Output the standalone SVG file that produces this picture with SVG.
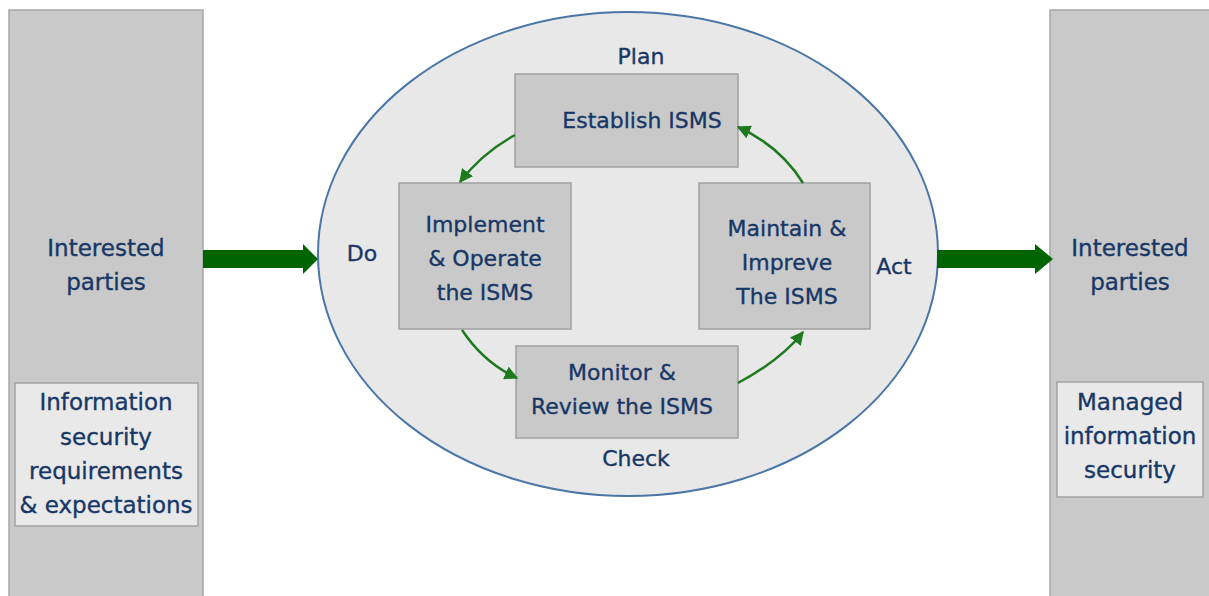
<svg xmlns="http://www.w3.org/2000/svg" width="1209" height="596" viewBox="0 0 1209 596">
<style>
.col{fill:#c9c9c9;stroke:#a6a6a6;stroke-width:1.5}
.ibox{fill:#e9e9e9;stroke:#a3a3a3;stroke-width:1.5}
.box{fill:#c9c9c9;stroke:#a0a0a0;stroke-width:1.5}
text{font-family:"DejaVu Sans","Verdana",sans-serif;fill:#173766;stroke:#173766;stroke-width:0.35;font-size:22px;text-anchor:middle}
.big{font-size:23px}
.flow{fill:none;stroke:#1f7a1f;stroke-width:2.5;marker-end:url(#ah)}
.fat{fill:#006400}
</style>
<defs>
<marker id="ah" viewBox="0 0 10 10" refX="9" refY="5" markerWidth="5.5" markerHeight="5.5" markerUnits="strokeWidth" orient="auto">
<path d="M0,0 L10,5 L0,10 Z" fill="#1f7a1f"/>
</marker>
</defs>
<rect width="1209" height="596" fill="#ffffff"/>
<g id="left-party">
<rect class="col" x="9" y="10" width="194" height="600"/>
<text class="big" x="106" y="256">Interested</text>
<text class="big" x="106" y="290">parties</text>
</g>
<g id="left-req">
<rect class="ibox" x="15" y="383" width="183" height="143"/>
<text class="big" x="106" y="410">Information</text>
<text class="big" x="106" y="445">security</text>
<text class="big" x="106" y="479">requirements</text>
<text class="big" x="106" y="513">&amp; expectations</text>
</g>
<g id="right-party">
<rect class="col" x="1050" y="10" width="170" height="600"/>
<text class="big" x="1130" y="256">Interested</text>
<text class="big" x="1130" y="290">parties</text>
</g>
<g id="right-managed">
<rect class="ibox" x="1057" y="382" width="146" height="115"/>
<text class="big" x="1130" y="410">Managed</text>
<text class="big" x="1130" y="444">information</text>
<text class="big" x="1130" y="478">security</text>
</g>
<g id="isms-cycle">
<ellipse cx="628" cy="254" rx="310" ry="242" fill="#e8e8e8" stroke="#4a76a8" stroke-width="2"/>
<text x="641" y="64">Plan</text>
<text x="362" y="261">Do</text>
<text x="894" y="274">Act</text>
<text x="636" y="466">Check</text>
</g>
<g id="establish">
<rect class="box" x="515" y="74" width="223" height="93"/>
<text x="642" y="128">Establish ISMS</text>
</g>
<g id="implement">
<rect class="box" x="399" y="183" width="172" height="146"/>
<text x="485" y="232">Implement</text>
<text x="485" y="266">&amp; Operate</text>
<text x="485" y="300">the ISMS</text>
</g>
<g id="maintain">
<rect class="box" x="699" y="183" width="171" height="146"/>
<text x="787" y="236">Maintain &amp;</text>
<text x="787" y="270">Impreve</text>
<text x="787" y="304">The ISMS</text>
</g>
<g id="monitor">
<rect class="box" x="516" y="346" width="222" height="92"/>
<text x="622" y="380">Monitor &amp;</text>
<text x="622" y="414">Review the ISMS</text>
</g>
<g id="connectors">
<path class="fat" d="M203,250 L303,250 L303,244 L318,259 L303,274 L303,268 L203,268 Z"/>
<path class="fat" d="M937,250 L1035,250 L1035,244 L1053,259 L1035,274 L1035,268 L937,268 Z"/>
<path class="flow" d="M515,135 Q482,153 460,182"/>
<path class="flow" d="M803,183 Q780,146 738,127"/>
<path class="flow" d="M462,330 Q484,363 517,378"/>
<path class="flow" d="M738,383 Q781,360 803,332"/>
</g>
</svg>
